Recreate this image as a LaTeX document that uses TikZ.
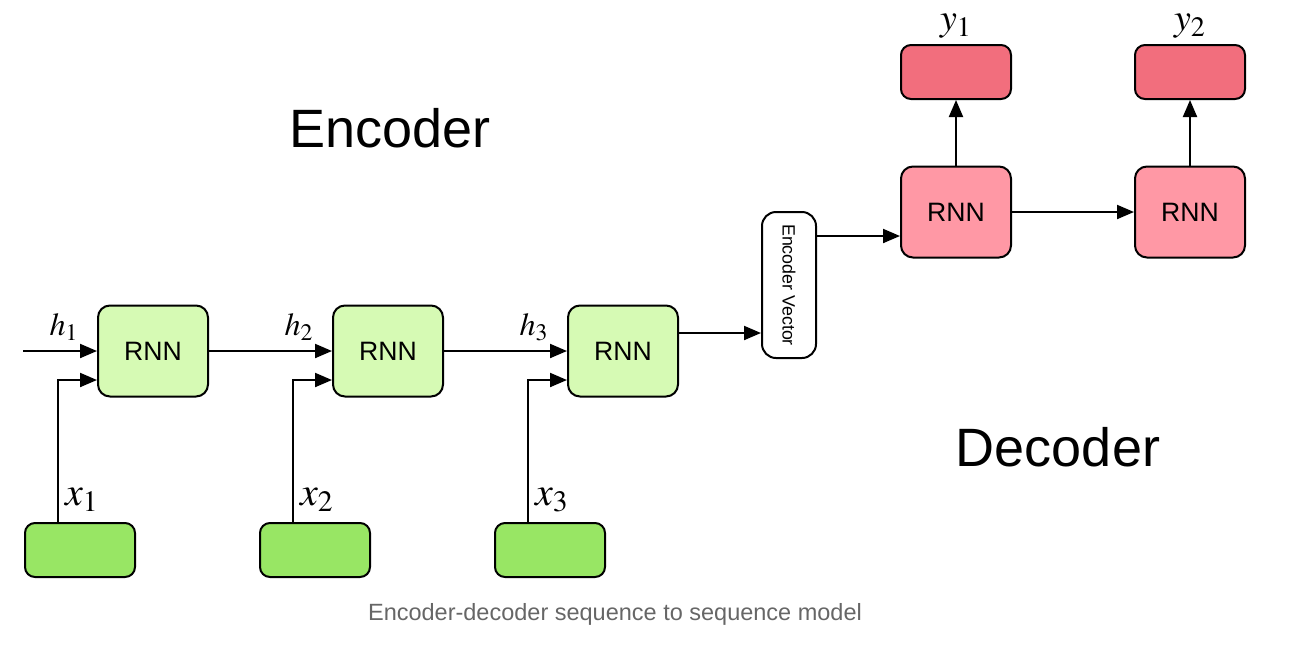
\documentclass[tikz,border=0pt]{standalone}
\usepackage{mathptmx}
\usepackage{fontspec}
\setmainfont{Liberation Serif}
\setsansfont{Liberation Sans}
\usetikzlibrary{arrows.meta}

\definecolor{encgreen}{HTML}{D6FAB4}
\definecolor{ingreen}{HTML}{98E664}
\definecolor{decpink}{HTML}{FF98A5}
\definecolor{outpink}{HTML}{F26E7D}
\definecolor{capgray}{HTML}{666666}

\tikzset{
  box/.style={draw, line width=1pt, inner sep=0pt},
  enc/.style={box, fill=encgreen, rounded corners=6pt, minimum width=55pt,
    minimum height=45.5pt, font=\sffamily\fontsize{13.3}{15}\selectfont},
  dec/.style={enc, fill=decpink},
  inp/.style={box, fill=ingreen, rounded corners=5pt, minimum width=55pt,
    minimum height=27pt},
  outp/.style={inp, fill=outpink},
  vec/.style={box, fill=white, rounded corners=7pt, minimum width=27pt,
    minimum height=73pt, font=\sffamily\fontsize{8.9}{10}\selectfont},
  arr/.style={line width=1pt, -{Triangle[length=8.5pt,width=7pt]}},
  lbl/.style={inner sep=0pt},
  title/.style={font=\sffamily\fontsize{27}{30}\selectfont}
}

\begin{document}
\begin{tikzpicture}[x=0.5pt,y=-0.5pt]
  \useasboundingbox (0,0) rectangle (1296,644);

  % encoder cells and their inputs
  \foreach \i/\x in {1/153,2/388,3/623}{
    \node[enc] (e\i) at (\x,351) {RNN};
    \node[inp] (in\i) at (\x-73,550) {};
    \draw[arr] ([xshift=-11pt]in\i.north) |- ([yshift=-14.5pt]e\i.west);
    \node[lbl, font=\fontsize{16}{18}\selectfont] (h\i) at (\x-89,327) {$h_{\i}$};
    \node[lbl, font=\fontsize{20}{22}\selectfont] (xl\i) at (\x-71,500) {$x_{\i}$};
  }
  \coordinate (hin) at (23,351);
  \draw[arr] (hin) -- (e1.west);
  \draw[arr] (e1.east) -- (e2.west);
  \draw[arr] (e2.east) -- (e3.west);

  % encoder vector
  \node[vec] (vec) at (789,285) {\rotatebox{-90}{Encoder Vector}};
  \draw[arr] ([yshift=9pt]e3.east) -- ([yshift=9pt]e3.east -| vec.west);

  % decoder cells and their outputs
  \foreach \i/\x in {1/956,2/1190}{
    \node[dec] (d\i) at (\x,212) {RNN};
    \node[outp] (o\i) at (\x,72) {};
    \draw[arr] (d\i.north) -- (o\i.south);
    \node[lbl, font=\fontsize{19}{21}\selectfont] (yl\i) at (\x,26) {$y_{\i}$};
  }
  \draw[arr] ([yshift=-12pt]d1.west -| vec.east) -- ([yshift=-12pt]d1.west);
  \draw[arr] (d1.east) -- (d2.west);

  % titles
  \node[title] (enctitle) at (390,128) {Encoder};
  \node[title] (dectitle) at (1058,447) {Decoder};
  \node[font=\sffamily\fontsize{11.75}{14}\selectfont, text=capgray] (caption)
    at (615,614) {Encoder-decoder sequence to sequence model};
\end{tikzpicture}
\end{document}
